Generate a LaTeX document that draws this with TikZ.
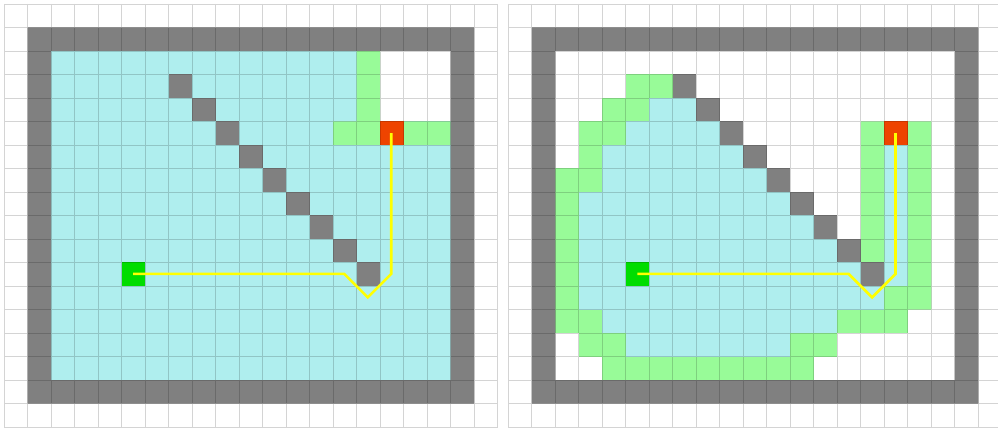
\documentclass[tikz,border=0pt]{standalone}
\definecolor{cellcyan}{HTML}{AFEEEE}
\definecolor{cellgreen}{HTML}{98FB98}
\definecolor{cellwall}{HTML}{808080}
\definecolor{cellstart}{HTML}{00DD00}
\definecolor{cellgoal}{HTML}{EE4400}
\definecolor{pathyellow}{HTML}{FFFF00}
\tikzset{
  opencell/.style={fill=cellcyan},
  frontcell/.style={fill=cellgreen},
  wallcell/.style={fill=cellwall},
  endcell/.style={inner sep=0pt, outer sep=0pt, minimum size=23.5pt},
  startcell/.style={endcell, fill=cellstart},
  goalcell/.style={endcell, fill=cellgoal},
  gridline/.style={draw=black, draw opacity=0.17, line width=0.9pt},
  pathline/.style={draw=pathyellow, line width=2.6pt},
}
\newcommand{\mazecommon}[1]{%
  \fill[wallcell, even odd rule] (1,1) rectangle (20,17) (2,2) rectangle (19,16);
  \foreach \i in {0,...,8} {\fill[wallcell] ({7+\i},{3+\i}) rectangle ++(1,1);}
  \node[startcell] (s#1) at (5.5,11.5) {};
  \node[goalcell] (g#1) at (16.5,5.5) {};
  \draw[gridline] \foreach \i in {0,...,21} {(\i,0) -- (\i,18)}
                  \foreach \j in {0,...,18} {(0,\j) -- (21,\j)};
  \coordinate (a#1) at (14.5,11.5);
  \coordinate (b#1) at (15.5,12.5);
  \coordinate (c#1) at (16.5,11.5);
  \draw[pathline] (s#1.center) -- (a#1) -- (b#1) -- (c#1) -- (g#1.center);
}
\begin{document}
\begin{tikzpicture}[x=1pt,y=-1pt]
\useasboundingbox (0,0) rectangle (998,430);
\clip (0,0) rectangle (998,430);
\fill[white] (0,0) rectangle (998,430);
% left panel
\begin{scope}[shift={(4,4)}, scale=23.5]
  \fill[opencell] (2,2) rectangle (19,16);
  \fill[white] (16,2) rectangle (19,5);
  \fill[frontcell] (15,2) rectangle (16,5) (14,5) rectangle (16,6) (17,5) rectangle (19,6);
  \mazecommon{L}
\end{scope}
% right panel
\begin{scope}[shift={(508.3,4)}, scale=23.5]
  \foreach \r/\a/\b in {4/6/7, 5/5/8, 6/4/9, 7/4/10, 8/3/11, 9/3/12, 10/3/13, 11/3/14, 12/3/15, 13/4/13, 14/5/11}
    {\fill[opencell] (\a,\r) rectangle ({\b+1},{\r+1});}
  \fill[opencell] (16,6) rectangle (17,12);
  \foreach \r/\a/\b in {3/5/6, 4/4/5, 5/3/4, 6/3/3, 7/2/3, 8/2/2, 9/2/2, 10/2/2, 11/2/2, 12/2/2, 13/2/3, 14/3/4, 15/4/12, 12/16/16, 13/14/16, 14/12/13}
    {\fill[frontcell] (\a,\r) rectangle ({\b+1},{\r+1});}
  \fill[frontcell] (15,5) rectangle (16,11) (17,5) rectangle (18,13);
  \mazecommon{R}
\end{scope}
\end{tikzpicture}
\end{document}
